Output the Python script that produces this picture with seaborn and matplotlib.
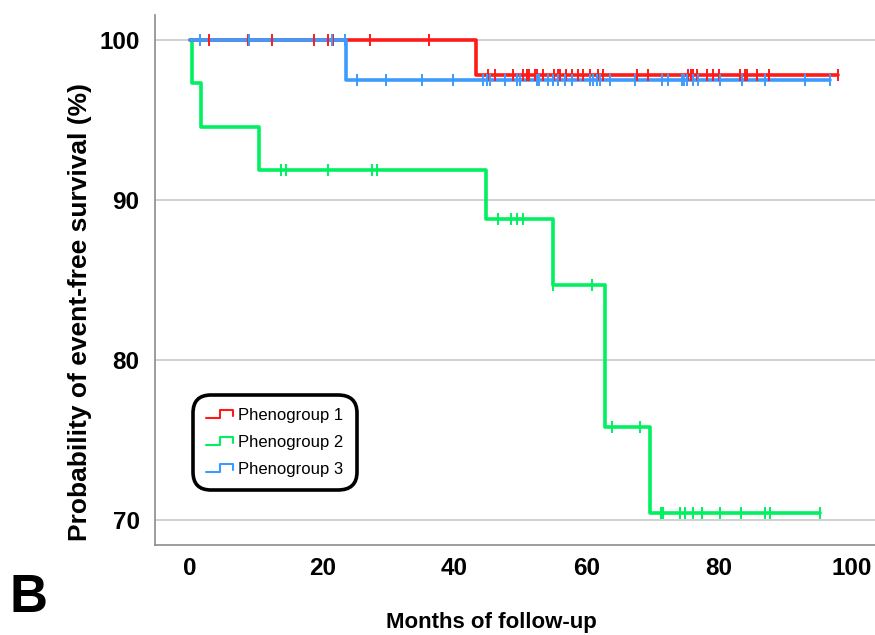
import numpy as np
import pandas as pd
import matplotlib
matplotlib.use("Agg")
import matplotlib.pyplot as plt
import seaborn as sns
from matplotlib.legend_handler import HandlerBase
from matplotlib.lines import Line2D

# step points of each KM curve (month, survival %)
groups = ["Phenogroup 1", "Phenogroup 2", "Phenogroup 3"]
colors = ["#ff1a1a", "#00f060", "#3d9bff"]

g1_time = [0, 43.2, 98.0]
g1_surv = [100, 97.8, 97.8]
g2_time = [0, 0.3, 1.7, 10.5, 44.7, 54.9, 62.7, 69.6, 95.3]
g2_surv = [100, 97.3, 94.6, 91.9, 88.8, 84.7, 75.8, 70.4, 70.4]
g3_time = [0, 23.6, 96.8]
g3_surv = [100, 97.5, 97.5]

# censored observations (months)
g1_cens = [2.9, 8.8, 12.4, 18.8, 20.9, 21.6, 27.2, 36.1, 45.1, 46.1, 48.9, 50.4,
           51.0, 51.3, 52.2, 52.5, 53.4, 55.0, 55.6, 56.0, 56.9, 57.8, 58.7, 59.5,
           60.5, 61.7, 62.5, 67.6, 69.3, 75.3, 75.8, 76.1, 76.7, 78.2, 79.1, 80.0,
           83.2, 84.0, 84.3, 85.8, 87.6, 98.0]
g2_cens = [13.8, 14.5, 20.9, 27.5, 28.3, 46.6, 48.6, 49.5, 50.4, 54.9, 60.8,
           63.8, 68.1, 71.3, 71.6, 74.1, 74.9, 76.1, 77.5, 80.2, 83.4, 87.0, 87.7,
           95.3]
g3_cens = [1.5, 8.9, 21.5, 23.4, 25.3, 29.7, 35.1, 39.8, 44.3, 44.9, 45.4, 47.7,
           49.5, 49.9, 52.5, 52.8, 54.2, 54.9, 55.7, 56.7, 57.8, 60.5, 61.0, 61.6,
           62.0, 63.5, 67.3, 71.4, 72.3, 74.4, 74.7, 75.2, 76.1, 76.9, 80.2, 83.5,
           87.0, 93.0, 96.8]

times = [g1_time, g2_time, g3_time]
survs = [g1_surv, g2_surv, g3_surv]
cens = [g1_cens, g2_cens, g3_cens]

curve = pd.concat([pd.DataFrame({"month": t, "surv": s, "group": g})
                   for t, s, g in zip(times, survs, groups)])

def surv_at(t_list, s_list, t):
    idx = np.searchsorted(t_list, t, side="right") - 1
    return np.array(s_list)[idx]

ticks = pd.concat([pd.DataFrame({"month": c, "surv": surv_at(t, s, c), "group": g})
                   for t, s, c, g in zip(times, survs, cens, groups)])

sns.set_style("white")
plt.rcParams["font.family"] = ["Liberation Sans Narrow", "Liberation Sans", "DejaVu Sans"]
plt.rcParams["text.color"] = "black"
plt.rcParams["axes.labelcolor"] = "black"
plt.rcParams["xtick.color"] = "black"
plt.rcParams["ytick.color"] = "black"

fig = plt.figure(figsize=(8.75, 6.35), dpi=100)
ax = fig.add_axes([0.177, 0.142, 0.823, 0.834])

# draw order: green under red under blue
order = [1, 0, 2]
for i in order:
    sns.lineplot(data=curve[curve.group == groups[i]], x="month", y="surv",
                 color=colors[i], drawstyle="steps-post", estimator=None,
                 linewidth=2.6, ax=ax, legend=False)
for i in order:
    sns.scatterplot(data=ticks[ticks.group == groups[i]], x="month", y="surv",
                    color=colors[i], marker="|", s=70, linewidth=1.4, ax=ax,
                    legend=False, zorder=3)

ax.set_xlim(-5.3, 103.6)
ax.set_ylim(68.44, 101.56)
ax.set_xticks([0, 20, 40, 60, 80, 100])
ax.set_yticks([70, 80, 90, 100])
ax.yaxis.grid(True, color="#c8c8c8", linewidth=1.2)
ax.set_axisbelow(True)
for side in ["top", "right"]:
    ax.spines[side].set_visible(False)
for side in ["left", "bottom"]:
    ax.spines[side].set_color("#8c8c8c")
    ax.spines[side].set_linewidth(1.2)
ax.tick_params(axis="both", length=0, labelsize=17.5)
ax.tick_params(axis="y", pad=11)
ax.tick_params(axis="x", pad=9)
for lab in ax.get_xticklabels() + ax.get_yticklabels():
    lab.set_fontweight("bold")
ax.set_xlabel("Months of follow-up", fontsize=16, fontweight="bold")
ax.set_ylabel("Probability of event-free survival (%)", fontsize=19,
              fontweight="bold")
ax.xaxis.set_label_coords(0.467, -0.127)
ax.yaxis.set_label_coords(-0.0875, 0.44)


class StepHandler(HandlerBase):
    def create_artists(self, legend, orig_handle, xdescent, ydescent, width,
                       height, fontsize, trans):
        x0 = -xdescent
        y0 = -ydescent
        xs = [x0, x0 + width * 0.5, x0 + width * 0.5, x0 + width, x0 + width]
        ys = [y0 + height * 0.15, y0 + height * 0.15, y0 + height * 0.85,
              y0 + height * 0.85, y0 + height * 0.3]
        ln = Line2D(xs, ys, color=orig_handle.get_color(), linewidth=1.5,
                    transform=trans)
        return [ln]


handles = [Line2D([], [], color=c) for c in colors]
leg = ax.legend(handles, groups, handler_map={Line2D: StepHandler()},
                loc="lower left", bbox_to_anchor=(0.061, 0.114), fontsize=12,
                frameon=True, fancybox=True, framealpha=1, handlelength=1.6,
                handletextpad=0.3, labelspacing=0.72, borderpad=0.45,
                borderaxespad=0)
frame = leg.get_frame()
frame.set_edgecolor("black")
frame.set_linewidth(2.6)
frame.set_boxstyle("round,pad=0.35,rounding_size=1.1")

fig.text(0.011, 0.036, "B", fontsize=38, fontweight="bold")

fig.savefig("out.png", dpi=100)
